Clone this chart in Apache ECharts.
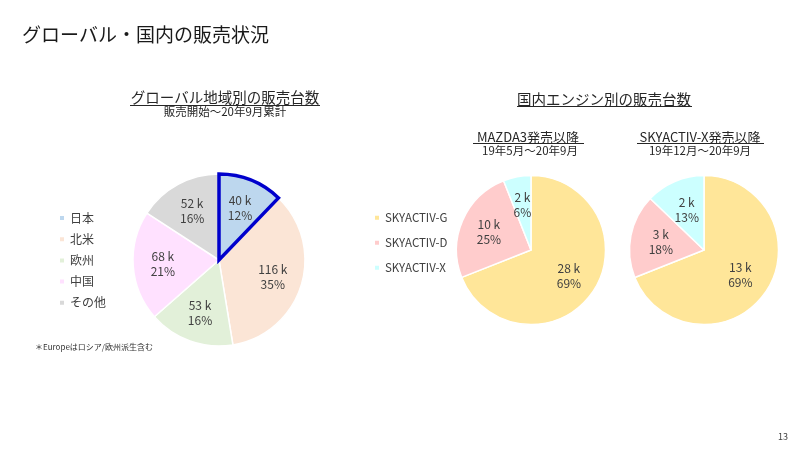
<!DOCTYPE html>
<html><head><meta charset="utf-8">
<script src="https://cdn.jsdelivr.net/npm/echarts@6/dist/echarts.min.js"></script>
<style>html,body{margin:0;padding:0;background:#fff}#c{width:800px;height:450px}</style>
</head><body><div id="c"></div>
<script>
// ---- data ----
const regionNames = ['日本', '北米', '欧州', '中国', 'その他'];
const regionValues = [40, 116, 53, 68, 52]; // k units
const regionColors = ['#BDD7EE', '#FBE5D6', '#E2F0D9', '#FFE1FF', '#D9D9D9'];

const engineNames = ['SKYACTIV-G', 'SKYACTIV-D', 'SKYACTIV-X'];
const mazda3Values = [27.6, 10.0, 2.4];   // since MAZDA3 launch (k)
const skyXValues = [12.9, 3.4, 2.4];      // since SKYACTIV-X launch (k)
const engineColors = ['#FFE699', '#FFCCCC', '#CCFFFF'];

const FONT = '"Noto Sans CJK JP", "Noto Sans", sans-serif';
const TXT = '#262626';

function mk(names, vals) { return names.map((n, i) => ({ name: n, value: vals[i] })); }
const labelFmt = p => Math.round(p.value) + ' k\n' + Math.round(p.percent) + '%';

function mainPie(names, vals, colors, center, r, extra) {
  return Object.assign({
    type: 'pie', center: center, radius: [0, r], startAngle: 90, clockwise: true,
    silent: true, animation: false,
    data: mk(names, vals).map((d, i) => Object.assign(d, { itemStyle: { color: colors[i] } })),
    itemStyle: { borderColor: '#ffffff', borderWidth: 1.5 },
    label: { show: false }, labelLine: { show: false }
  }, extra || {});
}
function labelPie(names, vals, center, r, frac) {
  return {
    type: 'pie', center: center, radius: [r * frac, r], startAngle: 90, clockwise: true,
    silent: true, animation: false, legendHoverLink: false,
    data: mk(names, vals),
    itemStyle: { color: 'rgba(0,0,0,0)', borderWidth: 0 },
    label: { show: true, position: 'inside', formatter: labelFmt, color: '#404040',
             fontFamily: FONT, fontSize: 12, lineHeight: 15 },
    labelLine: { show: false }
  };
}

const c1 = [219, 260], r1 = 86;
const c2 = [531, 250], r2 = 74.5;
const c3 = [704, 250], r3 = 74.5;

const highlight = {
  type: 'pie', center: c1, radius: [0, r1], startAngle: 90, clockwise: true,
  silent: true, animation: false, legendHoverLink: false,
  data: mk(regionNames, regionValues).map((d, i) => Object.assign(d, {
    itemStyle: i === 0 ? { color: 'rgba(0,0,0,0)', borderColor: '#0000CC', borderWidth: 3.5, borderJoin: 'miter' }
                       : { color: 'rgba(0,0,0,0)', borderWidth: 0 }
  })),
  label: { show: false }, labelLine: { show: false }
};

function txt(x, y, s, size, align, extra) {
  return { type: 'text', x: x, y: y, silent: true,
    style: Object.assign({ text: s, fill: TXT, font: size + 'px ' + FONT, align: align || 'center', verticalAlign: 'middle' }, extra || {}) };
}
function uline(x1, x2, y) {
  return { type: 'line', silent: true, shape: { x1: x1, y1: y, x2: x2, y2: y }, style: { stroke: TXT, lineWidth: 1 } };
}

const chart = echarts.init(document.getElementById('c'), null, { renderer: 'canvas' });
chart.setOption({
  backgroundColor: '#ffffff',
  animation: false,
  color: regionColors.concat(engineColors),
  legend: [
    { data: regionNames, orient: 'vertical', left: 53, top: 207, itemGap: 9.2,
      icon: 'rect', itemWidth: 6, itemHeight: 6, selectedMode: false,
      textStyle: { fontFamily: FONT, fontSize: 12, color: '#404040' } },
    { data: engineNames, orient: 'vertical', left: 368, top: 207, itemGap: 13.5,
      icon: 'rect', itemWidth: 6, itemHeight: 6, selectedMode: false,
      textStyle: { fontFamily: FONT, fontSize: 11.5, color: '#404040' } }
  ],
  series: [
    mainPie(regionNames, regionValues, regionColors, c1, r1),
    highlight,
    labelPie(regionNames, regionValues, c1, r1, 0.24),
    mainPie(engineNames, mazda3Values, engineColors, c2, r2),
    labelPie(engineNames, mazda3Values, c2, r2, 0.15),
    mainPie(engineNames, skyXValues, engineColors, c3, r3),
    labelPie(engineNames, skyXValues, c3, r3, 0.1)
  ],
  graphic: [
    txt(22, 35, 'グローバル・国内の販売状況', 19, 'left', { fill: '#1a1a1a' }),
    txt(225, 97, 'グローバル地域別の販売台数', 14.5),
    uline(130, 320, 105.5),
    txt(225, 112, '販売開始～20年9月累計', 11.5),
    txt(604, 99, '国内エンジン別の販売台数', 14.5),
    uline(517, 692, 106.5),
    txt(528, 137, 'MAZDA3発売以降', 13),
    uline(473, 584, 143.5),
    txt(530, 151, '19年5月～20年9月', 11.5),
    txt(700, 137, 'SKYACTIV-X発売以降', 13),
    uline(637, 764, 143.5),
    txt(700, 151, '19年12月～20年9月', 11.5),
    txt(35, 347, '＊Europeはロシア/欧州派生含む', 8, 'left', { fill: '#333' }),
    txt(783, 437, '13', 9, 'center', { fill: '#404040' })
  ]
});
</script></body></html>
